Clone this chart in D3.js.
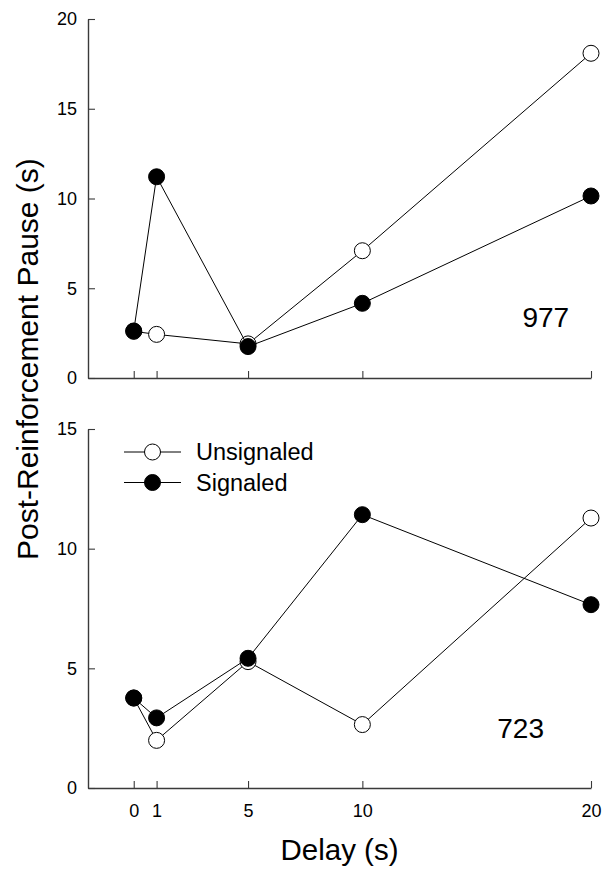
<!DOCTYPE html>
<html>
<head>
<meta charset="utf-8">
<script src="https://cdn.jsdelivr.net/npm/d3@7"></script>
<style>
  html, body { margin: 0; padding: 0; background: #fff; }
  svg { display: block; font-family: "Liberation Sans", Arial, sans-serif; }
</style>
</head>
<body>
<svg id="chart" width="610" height="870"></svg>
<script>
// ---- data ----
const delays = [0, 1, 5, 10, 20];
const xTicks = [0, 1, 5, 10, 20];
const unsignaled977 = [2.6, 2.43, 1.9, 7.09, 18.09];
const signaled977   = [2.62, 11.21, 1.75, 4.16, 10.14];
const unsignaled723 = [3.76, 1.99, 5.28, 2.65, 11.28];
const signaled723   = [3.76, 2.93, 5.42, 11.42, 7.66];
const yTicks977 = [0, 5, 10, 15, 20];
const yTicks723 = [0, 5, 10, 15];
const seriesNames = ["Unsignaled", "Signaled"];
const subjects = ["977", "723"];

const svg = d3.select("#chart");
const x = d3.scaleLinear().domain([-2, 20]).range([88, 591]);
const yTop = d3.scaleLinear().domain([0, 20]).range([378, 19]);
const yBot = d3.scaleLinear().domain([0, 15]).range([788, 429]);

const axisColor = "#3a3a3a";
const R = 8;

function drawPanel(y, yticks, unsig, sig, showXLabels, subj, labelPos) {
  const g = svg.append("g");
  // y axis
  const ya = g.append("g").attr("transform", `translate(${x.range()[0]},0)`)
    .call(d3.axisLeft(y).tickValues(yticks).tickSizeInner(-7).tickSizeOuter(0).tickPadding(11).tickFormat(d3.format("d")));
  // x axis
  const xa = g.append("g").attr("transform", `translate(0,${y.range()[0]})`)
    .call(d3.axisBottom(x).tickValues(xTicks).tickSizeInner(-7).tickSizeOuter(0).tickPadding(16)
      .tickFormat(showXLabels ? d3.format("d") : () => ""));
  [ya, xa].forEach(a => {
    a.select(".domain").attr("stroke", axisColor).attr("stroke-width", 1.4);
    a.selectAll(".tick line").attr("stroke", axisColor).attr("stroke-width", 1.1);
    a.selectAll(".tick text").attr("fill", "#000").style("font-size", "18px")
      .style("font-family", '"Liberation Sans", Arial, sans-serif');
  });

  const line = d3.line().x((d, i) => x(delays[i])).y(d => y(d));
  [[unsig, "#fff"], [sig, "#000"]].forEach(([vals, fill]) => {
    g.append("path").datum(vals).attr("d", line)
      .attr("fill", "none").attr("stroke", "#000").attr("stroke-width", 1);
    g.selectAll(null).data(vals).enter().append("circle")
      .attr("cx", (d, i) => x(delays[i])).attr("cy", d => y(d)).attr("r", R)
      .attr("fill", fill).attr("stroke", "#000").attr("stroke-width", 1);
  });

  g.append("text").attr("x", x(labelPos[0])).attr("y", y(labelPos[1]))
    .style("font-size", "28px").attr("fill", "#000").text(subj);
}

drawPanel(yTop, yTicks977, unsignaled977, signaled977, false, subjects[0], [17.0, 2.85]);
drawPanel(yBot, yTicks723, unsignaled723, signaled723, true, subjects[1], [15.9, 2.1]);

// legend
const legend = svg.append("g");
const legendFills = ["#fff", "#000"];
seriesNames.forEach((name, i) => {
  const ly = 452 + i * 30.5;
  legend.append("line").attr("x1", 124).attr("x2", 181).attr("y1", ly).attr("y2", ly)
    .attr("stroke", "#000").attr("stroke-width", 1);
  legend.append("circle").attr("cx", 152.5).attr("cy", ly).attr("r", R)
    .attr("fill", legendFills[i]).attr("stroke", "#000").attr("stroke-width", 1);
  legend.append("text").attr("x", 196).attr("y", ly).attr("dy", "0.36em")
    .style("font-size", "23.5px").attr("fill", "#000").text(name);
});

// axis titles
svg.append("text").attr("transform", "translate(38,560) rotate(-90)")
  .attr("text-anchor", "start").style("font-size", "30px").attr("fill", "#000")
  .text("Post-Reinforcement Pause (s)");
svg.append("text").attr("x", (x.range()[0] + x.range()[1]) / 2).attr("y", 860)
  .attr("text-anchor", "middle").style("font-size", "29.5px").attr("fill", "#000")
  .text("Delay (s)");
</script>
</body>
</html>
